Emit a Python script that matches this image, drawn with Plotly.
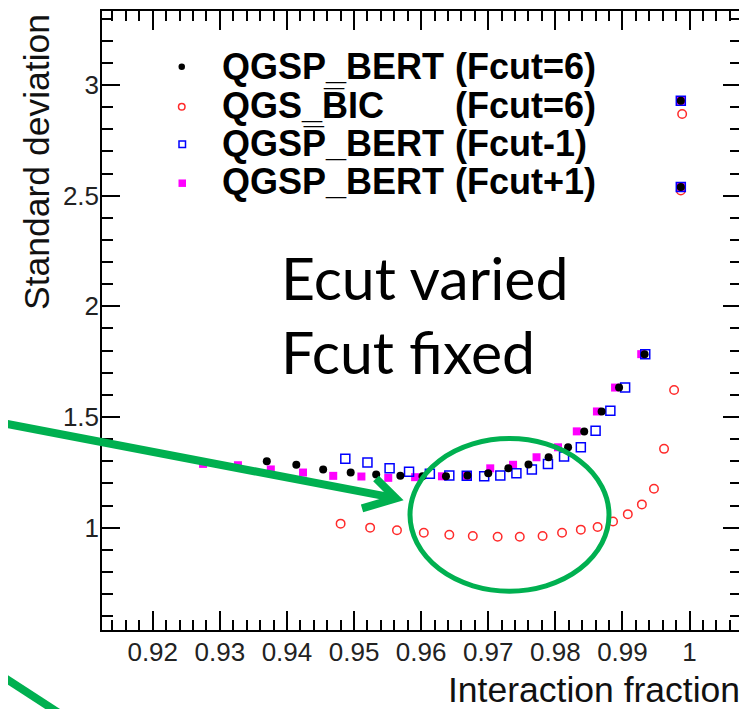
import plotly.graph_objects as go

# ---------------- data ----------------
black_x = [0.9370, 0.9414, 0.9454, 0.9495, 0.9533, 0.9569, 0.9602, 0.9637, 0.9669, 0.9700,
           0.9730, 0.9760, 0.9790, 0.9819, 0.9843, 0.9869, 0.9895, 0.9933, 0.9987, 0.9987]
black_y = [1.300, 1.284, 1.263, 1.249, 1.240, 1.234, 1.232, 1.232, 1.236, 1.246,
           1.268, 1.285, 1.318, 1.363, 1.434, 1.525, 1.633, 1.784, 2.539, 2.929]

red_x = [0.9480, 0.9524, 0.9564, 0.9604, 0.9642, 0.9677, 0.9714, 0.9747, 0.9781, 0.9810,
         0.9838, 0.9863, 0.9886, 0.9908, 0.9929, 0.9947, 0.9962, 0.9977, 0.9987, 0.9989]
red_y = [1.018, 1.000, 0.988, 0.977, 0.968, 0.962, 0.959, 0.959, 0.962, 0.977,
         0.991, 1.003, 1.028, 1.061, 1.105, 1.176, 1.356, 1.622, 2.524, 2.869]

blue_x = [0.9487, 0.9520, 0.9553, 0.9582, 0.9613, 0.9642, 0.9668, 0.9694, 0.9718, 0.9742,
          0.9765, 0.9789, 0.9813, 0.9838, 0.9860, 0.9882, 0.9904, 0.9934, 0.9987, 0.9987]
blue_y = [1.311, 1.294, 1.268, 1.252, 1.243, 1.236, 1.235, 1.232, 1.236, 1.246,
          1.263, 1.288, 1.321, 1.363, 1.438, 1.528, 1.633, 1.784, 2.539, 2.929]

magenta_x = [0.9275, 0.9327, 0.9376, 0.9424, 0.9469, 0.9511, 0.9551, 0.9591, 0.9631, 0.9668,
             0.9703, 0.9737, 0.9772, 0.9804, 0.9832, 0.9862, 0.9889, 0.9928, 0.9987, 0.9987]
magenta_y = [1.288, 1.282, 1.263, 1.249, 1.234, 1.231, 1.225, 1.228, 1.232, 1.234,
             1.268, 1.284, 1.318, 1.363, 1.435, 1.525, 1.633, 1.784, 2.539, 2.929]

series_names = ["QGSP_BERT", "QGS_B\u0305IC", "QGSP\u0305_BERT", "QGSP_BERT"]
series_tags = ["(Fcut=6)", "(Fcut=6)", "(Fcut-1)", "(Fcut+1)"]

x_title = "Interaction fraction"
y_title = "Standard deviation"
note_lines = ["Ecut varied", "Fcut fixed"]

# ---------------- layout geometry (screen pixels) ----------------
OFF = 8                      # default body margin of the page
W, H = 747 - OFF, 709 - OFF  # figure size so that it ends at the window edge
L, R, T, B = 102, 741, 9, 630  # plot frame in screen pixels


def px(x):
    return (x - L) / (R - L)


def py(y):
    return (B - y) / (B - T)


GREEN = "#00B050"
ARIAL = "Liberation Sans, Arial, sans-serif"

fig = go.Figure()
fig.add_trace(go.Scatter(x=magenta_x, y=magenta_y, mode="markers", showlegend=False,
                         marker=dict(symbol="square", size=8, color="#ff00ff", line=dict(width=0))))
fig.add_trace(go.Scatter(x=red_x, y=red_y, mode="markers", showlegend=False,
                         marker=dict(symbol="circle-open", size=8.5, color="#ff2a2a", line=dict(width=1.5))))
fig.add_trace(go.Scatter(x=blue_x, y=blue_y, mode="markers", showlegend=False,
                         marker=dict(symbol="square-open", size=9, color="#0000ff", line=dict(width=1.5))))
fig.add_trace(go.Scatter(x=black_x, y=black_y, mode="markers", showlegend=False,
                         marker=dict(symbol="circle", size=8, color="black", line=dict(width=0))))

axis_common = dict(
    showgrid=False, zeroline=False, showline=True, linecolor="black", linewidth=1.5,
    mirror="ticks", ticks="inside", tickcolor="black", tickwidth=1.5,
    tickfont=dict(family=ARIAL, size=26, color="#222"),
)

fig.update_xaxes(range=[0.91244, 1.00767], tickmode="linear", tick0=0.92, dtick=0.01, ticklen=19,
                 ticklabelstandoff=-2,
                 minor=dict(tick0=0.92, dtick=0.002, ticks="inside", ticklen=10,
                            tickcolor="black", tickwidth=1.5, showgrid=False),
                 **axis_common)
fig.update_yaxes(range=[0.5374, 3.3347], tickmode="linear", tick0=0, dtick=0.5, ticklen=18,
                 ticklabelstandoff=-4,
                 minor=dict(tick0=0, dtick=0.1, ticks="inside", ticklen=11,
                            tickcolor="black", tickwidth=1.5, showgrid=False),
                 **axis_common)

annotations = []
# axis titles (ROOT style, right/top aligned)
annotations.append(dict(x=px(741), y=py(690), xref="paper", yref="paper", text=x_title,
                        showarrow=False, xanchor="right", yanchor="middle", borderpad=0,
                        font=dict(family=ARIAL, size=35.5, color="#111")))
annotations.append(dict(x=px(37), y=py(11), xref="paper", yref="paper", text=y_title,
                        showarrow=False, xanchor="center", yanchor="top", textangle=-90, borderpad=0,
                        font=dict(family=ARIAL, size=35.5, color="#111")))

# legend block
row_y = [65, 104, 142, 180]
for name, tag, yy in zip(series_names, series_tags, row_y):
    annotations.append(dict(x=px(221), y=py(yy), xref="paper", yref="paper", text=name,
                            showarrow=False, xanchor="left", yanchor="middle", borderpad=0,
                            font=dict(family=ARIAL, size=36, color="black", weight="bold")))
    annotations.append(dict(x=px(454), y=py(yy), xref="paper", yref="paper", text=tag,
                            showarrow=False, xanchor="left", yanchor="middle", borderpad=0,
                            font=dict(family=ARIAL, size=36, color="black", weight="bold")))

# big note
for line, yy in zip(note_lines, [276, 351]):
    annotations.append(dict(x=px(280), y=py(yy), xref="paper", yref="paper", text=line,
                            showarrow=False, xanchor="left", yanchor="middle", borderpad=0,
                            font=dict(family="Lato, Open Sans, sans-serif", size=59, color="black")))

shapes = []
# legend markers
shapes.append(dict(type="circle", xref="paper", yref="paper",
                   x0=px(178.5), x1=px(185), y0=py(68.3), y1=py(61.7),
                   fillcolor="black", line=dict(width=0)))
shapes.append(dict(type="circle", xref="paper", yref="paper",
                   x0=px(178.5), x1=px(185), y0=py(108.3), y1=py(101.7),
                   fillcolor="rgba(0,0,0,0)", line=dict(color="#ff2a2a", width=1.5)))
shapes.append(dict(type="rect", xref="paper", yref="paper",
                   x0=px(179), x1=px(185.5), y0=py(146), y1=py(139.5),
                   fillcolor="rgba(0,0,0,0)", line=dict(color="#0000ff", width=1.5)))
shapes.append(dict(type="rect", xref="paper", yref="paper",
                   x0=px(178.5), x1=px(186), y0=py(185.5), y1=py(178),
                   fillcolor="#ff00ff", line=dict(width=0)))

# green arrow (shaft + open head)
shapes.append(dict(type="line", xref="paper", yref="paper",
                   x0=px(-5), y0=py(421), x1=px(394), y1=py(497.5),
                   line=dict(color=GREEN, width=8)))
shapes.append(dict(type="path", xref="paper", yref="paper",
                   path="M {:.5f},{:.5f} L {:.5f},{:.5f} L {:.5f},{:.5f}".format(
                       px(362), py(508), px(396), py(498), px(376), py(478)),
                   line=dict(color=GREEN, width=8)))
# green ellipse
shapes.append(dict(type="circle", xref="paper", yref="paper",
                   x0=px(410), x1=px(609), y0=py(591), y1=py(438),
                   line=dict(color=GREEN, width=5)))
# second green line at bottom-left
shapes.append(dict(type="line", xref="paper", yref="paper",
                   x0=px(-10), y0=py(668.5), x1=px(60), y1=py(714),
                   line=dict(color=GREEN, width=8)))

fig.update_layout(
    width=W, height=H,
    margin=dict(l=L - OFF, r=(OFF + W) - R, t=T - OFF, b=(OFF + H) - B, pad=0),
    paper_bgcolor="white", plot_bgcolor="white",
    showlegend=False,
    annotations=annotations,
    shapes=shapes,
)

fig.write_html("out.html")
